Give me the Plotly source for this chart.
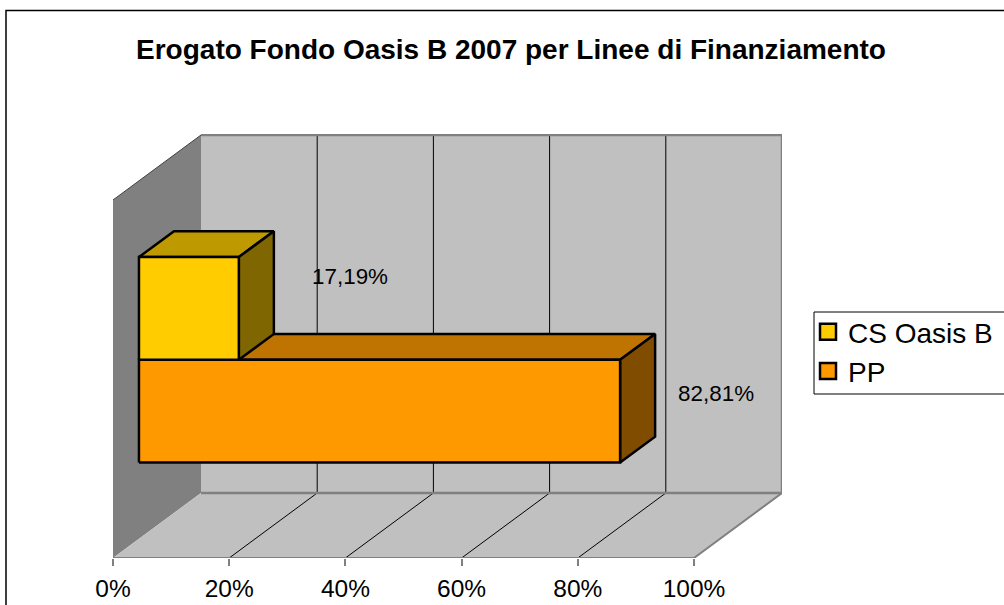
import plotly.graph_objects as go

# ---- data ----
series_names = ["PP", "CS Oasis B"]
series_values = [82.81, 17.19]
value_labels = ["82,81%", "17,19%"]
tick_values = [0, 20, 40, 60, 80, 100]
tick_labels = ["0%", "20%", "40%", "60%", "80%", "100%"]
title_text = "Erogato Fondo Oasis B 2007 per Linee di Finanziamento"

# ---- 3-D look: oblique projection on a plain cartesian axis ----
PX_X = 5.81            # pixels per x unit
PX_Y = 3.58            # pixels per y unit
L, R, T, B = 113, 222, 134, 47
W, H = 1004, 605
plot_w, plot_h = W - L - R, H - T - B
DEPTH_X = 88 / PX_X    # x shift from front to back of the box
DEPTH_Y = 65 / PX_Y    # y shift from front to back of the box
WALL = 100
BAR_D0, BAR_D1 = 0.295, 0.693     # depth span of bars
BAR_BANDS = [(21.3, 50.0), (50.0, 78.7)]
FACE = ["#FF9900", "#FFCC00"]
TOP = ["#BF7300", "#BF9900"]
SIDE = ["#804D00", "#806600"]
LABEL_POS = [(103.8, 45.5), (40.8, 78.2)]


def pr(v, h, d):
    return v + d * DEPTH_X, h + d * DEPTH_Y


def poly(pts, fill=None, line="rgba(0,0,0,0)", width=1):
    xs, ys = zip(*[pr(*p) for p in pts])
    return go.Scatter(
        x=list(xs), y=list(ys), mode="lines",
        fill="toself" if fill else "none", fillcolor=fill,
        line=dict(color=line, width=width, shape="linear"),
        hoverinfo="skip", showlegend=False,
    )


fig = go.Figure()
GREY, WALLC, EDGE = "#808080", "#C0C0C0", "#808080"

# walls and floor
fig.add_trace(poly([(0, 0, 0), (0, 0, 1), (0, WALL, 1), (0, WALL, 0), (0, 0, 0)], GREY))
fig.add_trace(poly([(0, 0, 1), (100, 0, 1), (100, WALL, 1), (0, WALL, 1), (0, 0, 1)], WALLC))
fig.add_trace(poly([(0, 0, 0), (100, 0, 0), (100, 0, 1), (0, 0, 1), (0, 0, 0)], WALLC))

# gridlines
for v in tick_values[1:-1]:
    fig.add_trace(poly([(v, 0, 0), (v, 0, 1), (v, WALL, 1)], None, "#000000", 1))

# frame edges
fig.add_trace(poly([(0, WALL, 1), (100, WALL, 1), (100, 0, 1), (0, 0, 1)], None, EDGE, 2.5))
fig.add_trace(poly([(100, 0, 1), (100, 0, 0), (0, 0, 0)], None, EDGE, 2))
fig.add_trace(poly([(0, 0, 0), (0, WALL, 0)], None, EDGE, 1.5))
fig.add_trace(poly([(0, WALL, 0), (0, WALL, 1)], None, "#404040", 1))

# bars
for i, v in enumerate(series_values):
    h0, h1 = BAR_BANDS[i]
    d0, d1 = BAR_D0, BAR_D1
    for pts, col in (
        ([(0, h1, d0), (v, h1, d0), (v, h1, d1), (0, h1, d1), (0, h1, d0)], TOP[i]),
        ([(v, h0, d0), (v, h0, d1), (v, h1, d1), (v, h1, d0), (v, h0, d0)], SIDE[i]),
        ([(0, h0, d0), (v, h0, d0), (v, h1, d0), (0, h1, d0), (0, h0, d0)], FACE[i]),
    ):
        fig.add_trace(poly(pts, col, "#000000", 2.5))

# data labels
fig.add_trace(go.Scatter(
    x=[p[0] for p in LABEL_POS], y=[p[1] for p in LABEL_POS],
    mode="text", text=value_labels, textposition="middle center",
    textfont=dict(family="Liberation Sans", size=22.4, color="#000000"),
    hoverinfo="skip", showlegend=False,
))

# legend entries (top one first)
for i in (1, 0):
    fig.add_trace(go.Scatter(
        x=[None], y=[None], mode="markers", name=series_names[i],
        legendgroup=series_names[i],
        marker=dict(symbol="square", size=16, color=FACE[i],
                    line=dict(color="#000000", width=2.5)),
    ))


def px_x(p):
    return (p - L) / plot_w


def px_y(p):
    return (H - B - p) / plot_h


fig.update_layout(
    width=W, height=H,
    margin=dict(l=L, r=R, t=T, b=B, autoexpand=False),
    paper_bgcolor="#FFFFFF", plot_bgcolor="rgba(0,0,0,0)",
    font=dict(family="Liberation Sans", color="#000000"),
    title=dict(
        text="<b>" + title_text + "</b>",
        x=511 / W, xanchor="center", y=1 - 49.5 / H, yanchor="middle",
        font=dict(family="Liberation Sans", size=28, color="#000000"),
    ),
    xaxis=dict(
        range=[0, plot_w / PX_X], showgrid=False, zeroline=False, showline=False,
        tickmode="array", tickvals=tick_values, ticktext=tick_labels,
        ticks="outside", ticklen=7, tickwidth=1.5, tickcolor=EDGE,
        tickfont=dict(family="Liberation Sans", size=24.5, color="#000000"),
        ticklabelstandoff=2, fixedrange=True,
    ),
    yaxis=dict(range=[0, plot_h / PX_Y], visible=False, fixedrange=True),
    legend=dict(
        x=px_x(808), y=px_y(307), xanchor="left", yanchor="top",
        bgcolor="rgba(0,0,0,0)", borderwidth=0, itemsizing="trace",
        itemwidth=30, tracegroupgap=8, traceorder="normal",
        font=dict(family="Liberation Sans", size=28, color="#000000"),
    ),
    shapes=[
        dict(type="rect", xref="paper", yref="paper",
             x0=px_x(814), x1=px_x(1010), y0=px_y(394), y1=px_y(312),
             line=dict(color="#000000", width=1), fillcolor="#FFFFFF", layer="below"),
        dict(type="rect", xref="paper", yref="paper",
             x0=px_x(6), x1=px_x(1012), y0=px_y(620), y1=px_y(10.5),
             line=dict(color="#000000", width=1.5), fillcolor="rgba(0,0,0,0)", layer="below"),
    ],
    showlegend=True,
)

fig.write_html(
    "out.html",
    config={"displayModeBar": False},
    post_script="document.body.style.margin='0';document.body.style.overflow='hidden';",
)
